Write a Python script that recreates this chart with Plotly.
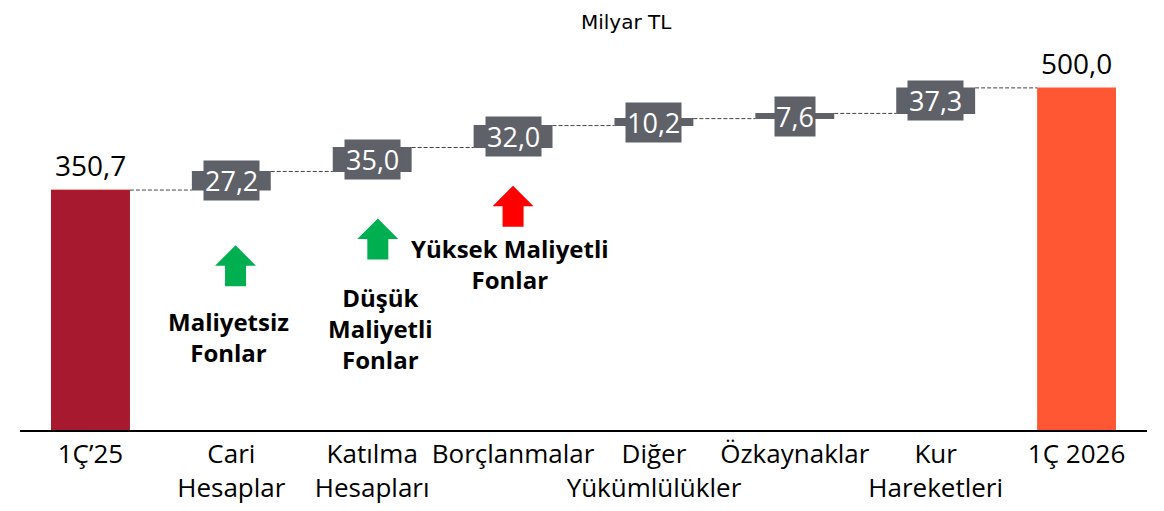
import numpy as np
import plotly.graph_objects as go

categories = ["1Ç’25", "Cari<br>Hesaplar", "Katılma<br>Hesapları", "Borçlanmalar",
              "Diğer<br>Yükümlülükler", "Özkaynaklar", "Kur<br>Hareketleri", "1Ç 2026"]
values = [350.7, 27.2, 35.0, 32.0, 10.2, 7.6, 37.3, 500.0]
measures = ["absolute"] + ["relative"] * 6 + ["total"]

notes = ["", "Maliyetsiz<br>Fonlar", "Düşük<br>Maliyetli<br>Fonlar", "Yüksek Maliyetli<br>Fonlar"]
note_colors = ["", "#00B050", "#00B050", "#FF0000"]

FONT = "Open Sans"
GRAY = "#5F6168"
START_COLOR = "#A6192E"
END_COLOR = "#FF5733"

# block arrow, pixel offsets around its anchor
ARROW = "M -20.5,0 L 0,20.5 L 20.5,0 L 10.5,0 L 10.5,-20.5 L -10.5,-20.5 L -10.5,0 Z"


def fmt(v):
    return f"{v:.1f}".replace(".", ",")


steps = values[1:-1]
levels = np.cumsum([values[0]] + steps)
bases = levels[:-1]
bar_w = 0.56

fig = go.Figure()
fig.add_trace(go.Waterfall(
    x=list(range(len(categories))),
    y=values[:-1] + [0],
    measure=measures,
    width=bar_w,
    increasing=dict(marker=dict(color=GRAY)),
    totals=dict(marker=dict(color=END_COLOR)),
    connector=dict(line=dict(color="#444444", width=1, dash="4px,2px")),
    textposition="none",
    hoverinfo="skip",
))
# first bar gets its own colour
fig.add_trace(go.Bar(x=[0], y=[values[0]], width=bar_w,
                     marker=dict(color=START_COLOR, line=dict(width=0)), hoverinfo="skip"))

# end labels
for i in (0, len(values) - 1):
    fig.add_annotation(x=i, y=values[i], text=fmt(values[i]), showarrow=False,
                       yanchor="bottom", yshift=4,
                       font=dict(family=FONT, size=28, color="#000000"))

# step labels on grey boxes
for i, (b, s) in enumerate(zip(bases, steps), start=1):
    fig.add_annotation(x=i, y=b + s / 2, text=fmt(s), showarrow=False,
                       bgcolor=GRAY, borderpad=1,
                       font=dict(family=FONT, size=27, color="#FFFFFF"))

# cost notes with arrows
arrow_pos = [None, (1.03, 240), (2.04, 279), (3.0, 327)]
note_pos = [None, (0.98, 136), (2.06, 149), (2.98, 243)]
for i in range(1, 4):
    ax, ay = arrow_pos[i]
    nx, ny = note_pos[i]
    fig.add_shape(type="path", path=ARROW, xsizemode="pixel", ysizemode="pixel",
                  xanchor=ax, yanchor=ay, xref="x", yref="y",
                  fillcolor=note_colors[i], line=dict(width=0))
    fig.add_annotation(x=nx, y=ny, text="<b>" + notes[i] + "</b>", showarrow=False,
                       font=dict(family=FONT, size=24, color="#000000"))

fig.add_annotation(x=0.538, y=1.0, xref="paper", yref="paper", yshift=18,
                   text="Milyar TL", showarrow=False, yanchor="middle",
                   font=dict(family="DejaVu Sans", size=20, color="#000000"))

# page body adds an 8px offset, so the figure is sized 8px short
fig.update_layout(
    width=1156, height=503,
    margin=dict(l=12, r=17, t=32, b=81),
    plot_bgcolor="white", paper_bgcolor="white",
    showlegend=False,
    barmode="overlay", waterfallmode="overlay",
    xaxis=dict(tickmode="array", tickvals=list(range(len(categories))), ticktext=categories,
               range=[-0.5, 7.5], showline=True, linecolor="#000000", linewidth=2,
               showgrid=False, zeroline=False, ticks="", automargin=False, tickangle=0,
               tickfont=dict(family=FONT, size=26, color="#000000")),
    yaxis=dict(range=[0, 570], visible=False, showgrid=False, zeroline=False),
)

fig.write_html("out.html")
